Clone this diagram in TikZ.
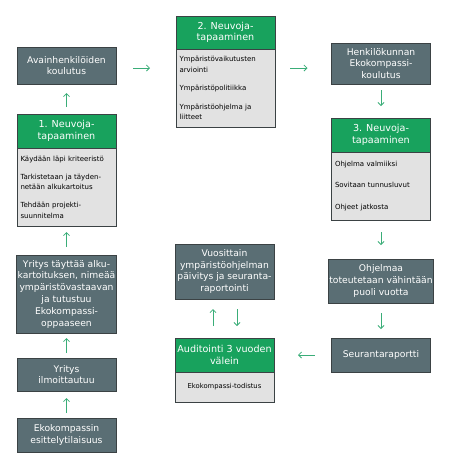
\documentclass[tikz,border=0pt]{standalone}
\usepackage{fontspec}
\setmainfont{DejaVu Sans}
\usepackage{xcolor}
\usepackage{tikz}
\usetikzlibrary{arrows.meta,positioning}
\definecolor{ekoslate}{HTML}{5A6E74}
\definecolor{ekoline}{HTML}{3B4244}
\definecolor{ekogreen}{HTML}{18A25D}
\definecolor{ekogray}{HTML}{E2E2E2}
\definecolor{ekoarrowc}{HTML}{3AAD78}
\tikzset{%
  ekobox/.style={%
    draw=ekoline,
    fill=ekoslate,
    text=white,
    line width=0.8pt,
    outer sep=0pt,
    inner sep=1pt,
    minimum width=99pt,
    align=center,
    font=\fontsize{9.2}{11.8}\selectfont
  },
  ekohead/.style={%
    ekobox,
    fill=ekogreen,
    font=\fontsize{9.6}{11.5}\selectfont
  },
  ekoitems/.style={%
    ekobox,
    fill=ekogray,
    text=black,
    text width=92pt,
    inner xsep=3.5pt,
    align=left,
    font=\fontsize{7}{10.5}\selectfont
  },
  ekoarrow/.style={-{Straight Barb[length=3pt,width=6pt]},line width=0.8pt,draw=ekoarrowc}
}

\begin{document}
\begin{tikzpicture}[x=1pt,y=1pt,node distance=27pt]
    \useasboundingbox (0,0) rectangle (453,-467);
    % left column
    \node[ekobox,minimum height=34pt] (eko) at (66.5,-435) {Ekokompassin\\esittelytilaisuus};
    \node[ekobox,minimum height=33pt,above=of eko] (ilm) {Yritys\\ilmoittautuu};
    \node[ekobox,minimum height=78pt,above=25pt of ilm] (tay) {Yritys täyttää alku-\\kartoituksen, nimeää\\ympäristövastaavan\\ja tutustuu\\Ekokompassi-\\oppaaseen};
    \node[ekoitems,minimum height=78pt,above=29pt of tay] (nbody1) {Käydään läpi kriteeristö\\[7.5pt]Tarkistetaan ja täyden-\\netään alkukartoitus\\[7.5pt]Tehdään projekti-\\suunnitelma};
    \node[ekohead,minimum height=34pt,above=0pt of nbody1] (nhead1) {1. Neuvoja-\\tapaaminen};
    \node[ekobox,minimum height=37pt,above=30pt of nhead1] (avain) {Avainhenkilöiden\\koulutus};
    % middle column
    \node[ekohead,minimum height=33pt] (nhead2) at (225.5,-32.5) {2. Neuvoja-\\tapaaminen};
    \node[ekoitems,minimum height=78pt,below=0pt of nhead2] (nbody2) {Ympäristövaikutusten\\arviointi\\[8pt]Ympäristöpolitiikka\\[8pt]Ympäristöohjelma ja\\liitteet};
    \node[ekobox,minimum height=55pt] (vuosi) at (224.5,-271.5) {Vuosittain\\ympäristöohjelman\\päivitys ja seuranta-\\raportointi};
    \node[ekohead,minimum height=34pt,below=39pt of vuosi] (audhead) {Auditointi 3 vuoden\\välein};
    \node[ekoitems,minimum height=30pt,below=0pt of audhead,align=center,font=\fontsize{6.8}{9}\selectfont] (audbody) {Ekokompassi-todistus};
    % right column
    \node[ekobox,minimum height=41pt] (henk) at (381,-63.5) {Henkilökunnan\\Ekokompassi-\\koulutus};
    \node[ekohead,minimum height=34pt,below=34pt of henk] (nhead3) {3. Neuvoja-\\tapaaminen};
    \node[ekoitems,minimum height=68pt,below=0pt of nhead3] (nbody3) {Ohjelma valmiiksi\\[11pt]Sovitaan tunnusluvut\\[11pt]Ohjeet jatkosta};
    \node[ekobox,minimum height=44pt,below=39pt of nbody3] (ohj) {Ohjelmaa\\toteutetaan vähintään\\puoli vuotta};
    \node[ekobox,minimum height=34pt,below=35pt of ohj] (seur) {Seurantaraportti};

    \draw[ekoarrow,shorten <=5pt,shorten >=7pt] (eko.north) -- (ilm.south);
    \draw[ekoarrow,shorten <=5pt,shorten >=5pt] (ilm.north) -- (tay.south);
    \draw[ekoarrow,shorten <=8pt,shorten >=6pt] (tay.north) -- (nbody1.south);
    \draw[ekoarrow,shorten <=7pt,shorten >=9pt] (nhead1.north) -- (avain.south);
    \draw[ekoarrow,shorten <=17pt,shorten >=26pt] ([yshift=-2.5pt]avain.east) -- ([yshift=-2.5pt]avain.east -| nbody2.west);
    \draw[ekoarrow,shorten <=15pt,shorten >=24pt] ([yshift=-4.5pt]henk.west -| nbody2.east) -- ([yshift=-4.5pt]henk.west);
    \draw[ekoarrow,shorten <=6pt,shorten >=12pt] (henk.south) -- (nhead3.north);
    \draw[ekoarrow,shorten <=12pt,shorten >=14pt] (nbody3.south) -- (ohj.north);
    \draw[ekoarrow,shorten <=10pt,shorten >=9pt] (ohj.south) -- (seur.north);
    \draw[ekoarrow,shorten <=17pt,shorten >=24pt] (seur.west) -- (seur.west -| audhead.east);
    \draw[ekoarrow,shorten <=12pt,shorten >=10pt] ([xshift=-11.5pt]audhead.north) -- ([xshift=-11.5pt]vuosi.south);
    \draw[ekoarrow,shorten <=10pt,shorten >=12pt] ([xshift=12.5pt]vuosi.south) -- ([xshift=12.5pt]audhead.north);
\end{tikzpicture}
\end{document}
